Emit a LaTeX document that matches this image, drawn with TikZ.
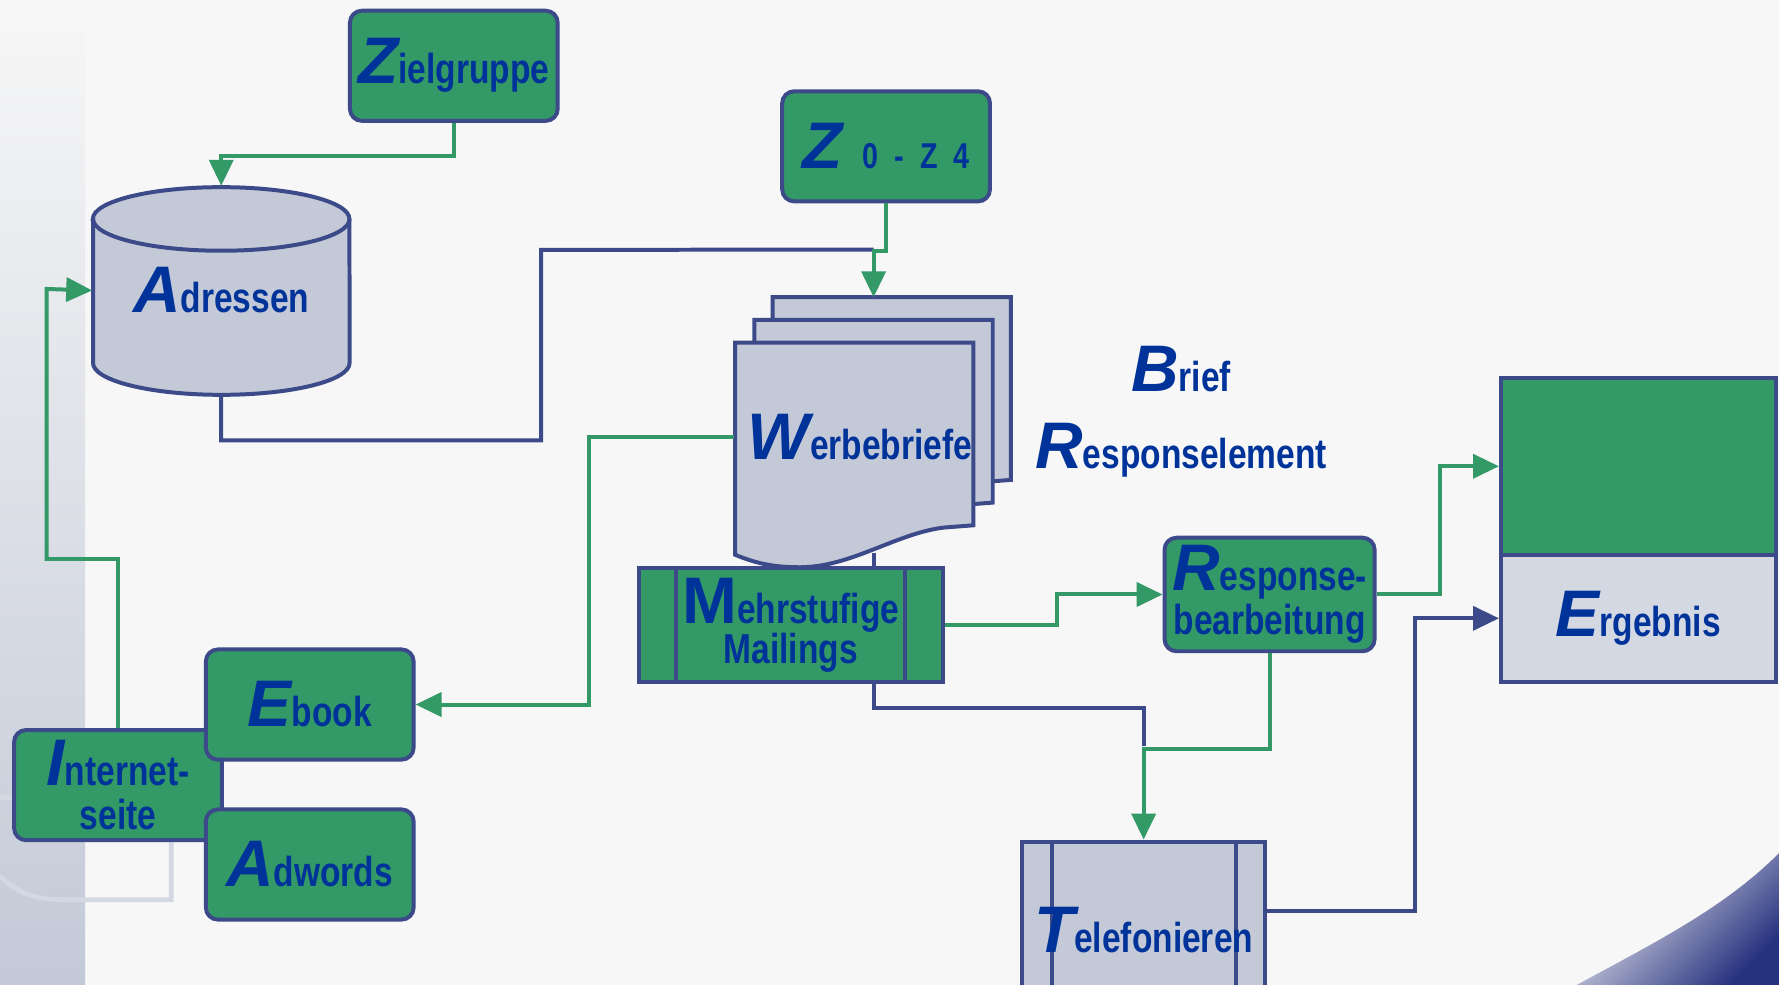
\documentclass[tikz,border=0pt]{standalone}
\usepackage{fontspec}
\setmainfont{Liberation Sans}[FakeStretch=0.8]
\newfontfamily\initfont{Liberation Sans}
\usepackage{tikz}
\usetikzlibrary{arrows.meta}
\usetikzlibrary{calc}

\definecolor{boxgreen}{HTML}{339966}
\definecolor{navy}{HTML}{3C4A8A}
\definecolor{paper}{HTML}{C3C9D7}
\definecolor{paperlight}{HTML}{D4D8E3}
\definecolor{ink}{HTML}{003399}
\definecolor{bg}{HTML}{F7F7F7}
\definecolor{corner}{HTML}{27327F}

\newcommand{\ini}[1]{{\initfont\fontsize{16.5}{16.5}\selectfont\bfseries\itshape #1}}
\newcommand{\iniup}[1]{{\initfont\fontsize{16.5}{16.5}\selectfont\bfseries #1}}
\newcommand{\txt}{\fontsize{10.5}{11}\selectfont\bfseries}

\begin{document}
\begin{tikzpicture}[x=0.01cm, y=-0.01cm, >={Triangle[length=6.5pt, width=6pt]},
    main/.style = {draw=navy, line width=1pt, fill=boxgreen, rounded corners=3pt,
                   minimum width=1.83cm, minimum height=0.97cm, inner sep=1pt,
                   align=center, text=ink, font=\txt},
    proc/.style = {draw=navy, line width=1pt, rectangle, inner sep=1pt,
                   align=center, text=ink, font=\txt,
                   path picture={\draw[navy, line width=1pt]
                     ([xshift=#1]path picture bounding box.north west) -- ([xshift=#1]path picture bounding box.south west)
                     ([xshift=-#1]path picture bounding box.north east) -- ([xshift=-#1]path picture bounding box.south east);}},
    plain/.style = {text=ink, font=\txt, inner sep=1pt},
    sheet/.style = {draw=navy, line width=1pt, fill=paper},
    gline/.style = {draw=boxgreen, line width=1pt},
    nline/.style = {draw=navy, line width=1pt}]

    \useasboundingbox (0,0) rectangle (1568,868);

    % background
    \fill[bg] (0,0) rectangle (1568,868);
    \shade[top color=bg, bottom color=paper] (0,0) rectangle (75,868);
    \shade[top color=bg, middle color=paper!80!bg, bottom color=corner, shading angle=45]
        (1390,868) .. controls (1460,830) and (1520,800) .. (1568,752) -- (1568,868) -- cycle;
    \draw[color=paperlight, line width=1.2pt] (0,703) -- (151,703) -- (151,793) -- (54,793)
        .. controls (30,793) and (12,785) .. (0,772);

    % Adressen
    \filldraw[sheet] (82,193) -- (82,320) arc[start angle=180, end angle=360, x radius=1.13cm, y radius=0.28cm]
        -- (308,193) arc[start angle=0, end angle=180, x radius=1.13cm, y radius=0.28cm] -- cycle;
    \draw[sheet, fill=none] (82,193) arc[start angle=180, end angle=360, x radius=1.13cm, y radius=0.28cm];
    \node [plain, minimum width=2.26cm, minimum height=1.83cm] (adr) at (195,256) {\raisebox{-0.17cm}{\ini{A}dressen}};

    % Werbebriefe
    \foreach \dx/\dy in {33/-40, 17/-20, 0/0} {
        \begin{scope}[shift={(\dx,\dy)}]
            \filldraw[sheet] (648,302) -- (858,302) -- (858,463) -- (832,465)
                .. controls (790,470) and (750,500) .. (705,500)
                .. controls (680,500) and (665,496) .. (648,489) -- cycle;
        \end{scope}
    }
    \coordinate (wbtop) at (770,262);
    \coordinate (wbbot) at (770,487);
    \coordinate (wbjoin) at (770,220);
    \node [plain, minimum width=2.2cm] (werbe) at (758,385) {\ini{W}erbebriefe};

    \node [plain] (brief) at (1041,325) {\ini{B}rief};
    \node [plain] (respel) at (1041,397) {\ini{R}esponselement};

    \node [main] (ziel) at (400,58) {\ini{Z}ielgruppe};
    \node [main] (z04) at (781,129) {\ini{Z}\hspace{5pt}{\fontsize{9}{9}\selectfont 0\hspace{4pt}-\hspace{4pt}Z\hspace{4pt}4}};

    \node [proc=0.33cm, fill=boxgreen, minimum width=2.68cm, minimum height=1cm] (mail) at (697,551) {\iniup{M}ehrstufige\\[-1pt]Mailings};
    \node [main, minimum width=1.85cm, minimum height=1cm] (resp) at (1119,524) {\ini{R}esponse-\\bearbeitung};

    \node [draw=navy, line width=1pt, fill=boxgreen, minimum width=2.42cm, minimum height=1.56cm] (ergtop) at (1444,411) {};
    \node [draw=navy, line width=1pt, fill=paperlight, minimum width=2.42cm, minimum height=1.12cm, text=ink, font=\txt] (ergbot) at (1444,545) {\ini{E}rgebnis};

    \node [proc=0.26cm, fill=paper, minimum width=2.14cm, minimum height=2cm, anchor=north,
           label={[text=ink, font=\txt, yshift=0.22cm]center:{\ini{T}elefonieren}}] (tel) at (1008,740) {};

    \node [main] (inet) at (104,692) {\ini{I}nternet-\\seite};
    \node [main] (ebook) at (273,621) {\ini{E}book};
    \node [main] (adw) at (273,762) {\ini{A}dwords};

    % connectors
    \draw[gline, ->] (ziel.south) -- ++(0,29) -| (adr.north);
    \draw[nline] (adr.south) -- ++(0,40) -| ++(282,-168) -- (wbjoin);
    \draw[gline, ->] (z04.south) -- ++(0,42) -| (wbtop);
    \draw[gline, ->] (inet.north) -- ++(0,-149) -| ++(-63,-238) -- (adr.west);
    \draw[gline, ->] (werbe.west) -- ++(-128,0) |- (ebook.east);
    \draw[nline] (wbbot) -- (wbbot |- mail.north);
    \draw[gline, ->] (mail.east) -- ++(99,0) |- (resp.west);
    \draw[gline, ->] (resp.east) -- ++(56,0) |- (ergtop.west);
    \draw[nline] (mail.south -| wbbot) -- ++(0,21) -| ++(238,34);
    \draw[gline, ->] (resp.south) -- ++(0,84) -| (tel.north);
    \draw[nline, ->] ($(tel.north east)+(0,63)$) -- ++(130,0) |- (ergbot.west);

\end{tikzpicture}
\end{document}
